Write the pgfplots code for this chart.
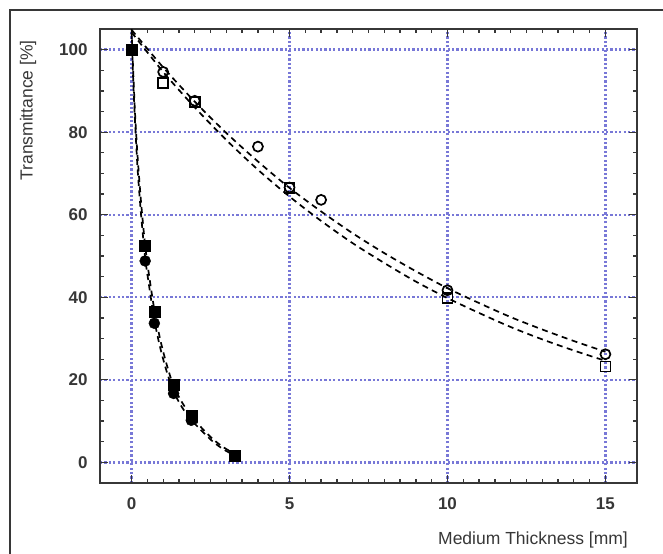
\documentclass[border=0pt]{standalone}
\usepackage{fontspec}
\setmainfont{Liberation Sans}
\usepackage{pgfplots}
\pgfplotsset{compat=1.18}
\definecolor{gridblue}{RGB}{120,120,215}
\definecolor{axgray}{RGB}{55,55,55}
\begin{document}
\begin{tikzpicture}
\begin{axis}[
  name=ax,
  width=537bp, height=454bp, scale only axis,
  xmin=-1, xmax=16, ymin=-5, ymax=105,
  xtick={0,5,10,15}, ytick={0,20,40,60,80,100},
  minor x tick num=9, minor y tick num=3,
  major tick length=8bp, minor tick length=4.5bp,
  every tick/.style={axgray, line width=1.3bp},
  axis line style={axgray, line width=1.8bp},
  grid=major,
  major grid style={gridblue, line width=2.3bp, dash pattern=on 2.2bp off 2.2bp},
  /pgf/number format/assume math mode=true,
  tick label style={font=\fontsize{17bp}{20bp}\selectfont\bfseries, text=axgray},
  yticklabel style={xshift=-9bp},
  xticklabel style={yshift=-11bp},
  clip=true,
]
% fit curves (dashed)
\addplot[black, line width=1.7bp, dash pattern=on 6bp off 4.5bp, smooth] coordinates {
 (0,104.8) (1,95.7) (2,87.4) (3,79.8) (4,72.9) (5,66.5) (6,60.8) (7,55.5) (8,50.7)
 (9,46.3) (10,42.2) (11,38.6) (12,35.2) (13,32.2) (14,29.4) (15,26.8)};
\addplot[black, line width=1.7bp, dash pattern=on 6bp off 4.5bp, smooth] coordinates {
 (0,104.2) (1,94.6) (2,86.0) (3,78.1) (4,70.9) (5,64.4) (6,58.5) (7,53.1) (8,48.3)
 (9,43.8) (10,39.8) (11,36.2) (12,32.8) (13,29.8) (14,27.1) (15,24.6)};
\addplot[black, line width=1.7bp, dash pattern=on 6bp off 4.5bp, smooth] coordinates {
 (0,105) (0.05,95) (0.1,86) (0.15,79) (0.2,73) (0.3,63) (0.43,52.5) (0.55,45.5)
 (0.72,37) (0.9,30) (1.1,24) (1.33,18.5) (1.6,14.5) (1.89,11.2) (2.2,8.5)
 (2.55,5.8) (2.9,3.7) (3.28,2.0)};
\addplot[black, line width=1.7bp, dash pattern=on 6bp off 4.5bp, smooth] coordinates {
 (0,104) (0.05,93) (0.1,84) (0.15,76.5) (0.2,70) (0.3,60) (0.43,49.5) (0.55,43)
 (0.72,34.5) (0.9,28) (1.1,22.3) (1.33,17.2) (1.6,13.3) (1.89,10.3) (2.2,7.8)
 (2.55,5.2) (2.9,3.2) (3.28,1.6)};
% filled circles
\addplot[only marks, mark=*, mark size=5.5bp, black] coordinates {
 (0,100) (0.43,48.8) (0.72,33.7) (1.33,16.7) (1.89,10.2) (3.28,1.5)};
% filled squares
\addplot[only marks, mark=square*, mark size=5.5bp, black] coordinates {
 (0,100) (0.43,52.5) (0.72,36.5) (1.33,18.9) (1.89,11.4) (3.28,1.7)};
% open squares
\addplot[only marks, mark=square, mark size=5bp, black, line width=1.7bp] coordinates {
 (1,91.9) (2,87.3) (5,66.4) (10,39.8) (15,23.2)};
% open circles
\addplot[only marks, mark=o, mark size=5bp, black, line width=1.7bp] coordinates {
 (1,94.6) (2,87.6) (4,76.5) (5,66.6) (6,63.6) (10,41.7) (15,26.2)};
\end{axis}
\path[use as bounding box] ([xshift=-100bp,yshift=-71bp]ax.south west) rectangle ([xshift=26bp,yshift=29bp]ax.north east);
\draw[axgray, line width=1.3bp] ([xshift=-90bp,yshift=-75bp]ax.south west) |- ([xshift=30bp,yshift=19bp]ax.north east);
\node[rotate=90, anchor=east, inner sep=0pt, text=axgray, font=\fontsize{17.5bp}{20bp}\selectfont] at ([xshift=-72bp,yshift=-11bp]ax.north west) {Transmittance [\%]};
\node[anchor=east, inner sep=0pt, text=axgray, font=\fontsize{17.5bp}{20bp}\selectfont] at ([xshift=-9bp,yshift=-57bp]ax.south east) {Medium Thickness [mm]};
\end{tikzpicture}
\end{document}
